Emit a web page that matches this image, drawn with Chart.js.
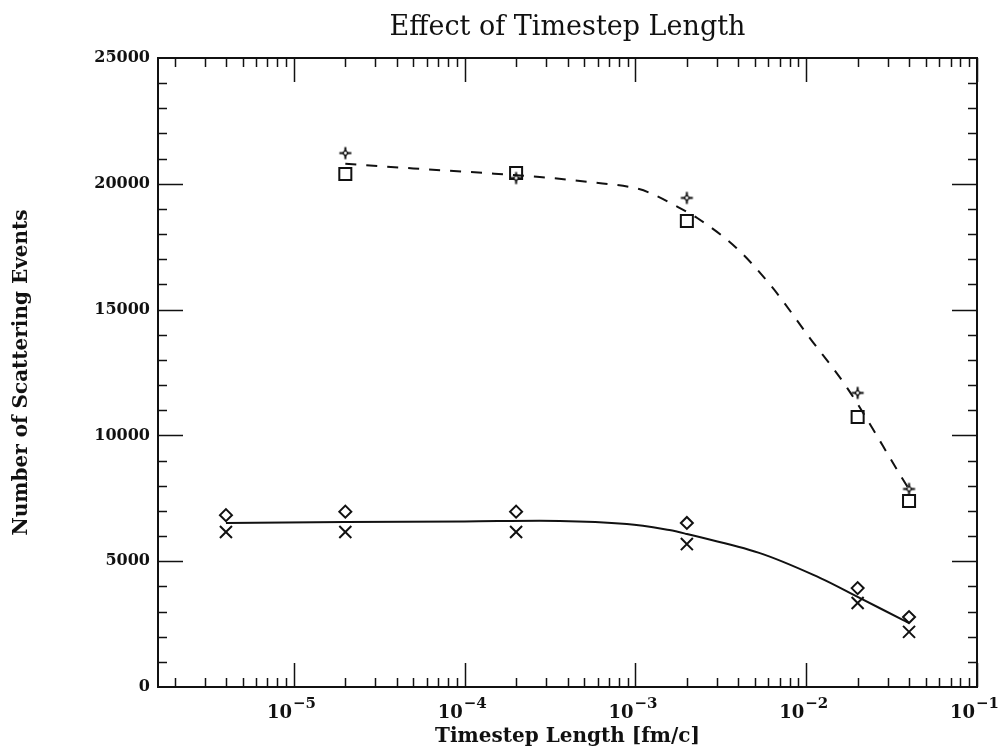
<!DOCTYPE html>
<html>
<head>
<meta charset="utf-8">
<script src="https://cdn.jsdelivr.net/npm/chart.js@4.4.1/dist/chart.umd.min.js"></script>
<style>
  body { margin: 0; background: #fff; }
  canvas { display: block; }
</style>
</head>
<body>
<canvas id="chart" width="1002" height="755"></canvas>
<script>
// timestep lengths where the runs were done
const timesteps = [4e-6, 2e-5, 2e-4, 2e-3, 2e-2, 4e-2];

// measured scattering counts (four runs)
const diamondCounts = [6830, 6970, 6970, 6520, 3930, 2780];
const crossCounts   = [6160, 6160, 6160, 5680, 3340, 2190];
const squareCounts  = [null, 20390, 20430, 18520, 10730, 7390];
const starCounts    = [null, 21220, 20230, 19440, 11690, 7870];

// fitted curves
const upperFitX = [2e-5, 5e-5, 1.3e-4, 2.75e-4, 5.4e-4, 1.05e-3, 1.29e-3, 1.64e-3, 2.3e-3, 3.9e-3, 6.3e-3, 1.05e-2, 1.74e-2, 3.55e-2, 4e-2];
const upperFitY = [20800, 20610, 20430, 20270, 20070, 19790, 19560, 19200, 18640, 17450, 15900, 13870, 11880, 8430, 7850];
const lowerFitX = [4e-6, 2e-5, 1e-4, 3.6e-4, 8.9e-4, 1.58e-3, 2e-3, 5.3e-3, 1.21e-2, 2e-2, 3.7e-2, 4e-2];
const lowerFitY = [6520, 6560, 6580, 6600, 6480, 6240, 6080, 5330, 4330, 3580, 2660, 2540];

// axes
const yTicks = [0, 5000, 10000, 15000, 20000, 25000];
const yMinorStep = 1000;
const xDecades = [1e-6, 1e-5, 1e-4, 1e-3, 1e-2];
const xMajorTicks = [1e-5, 1e-4, 1e-3, 1e-2, 1e-1];
const xTickExponents = ['\u22125', '\u22124', '\u22123', '\u22122', '\u22121'];
const minorMultipliers = [2, 3, 4, 5, 6, 7, 8, 9];

const ink = '#111';
const serif = "'DejaVu Serif', 'Liberation Serif', serif";

function pts(xs, ys) {
    return xs.map((x, i) => ({ x: x, y: ys[i] })).filter(p => p.y !== null);
}

// little four-point star with a hollow middle
function starMarker() {
    const c = document.createElement('canvas');
    c.width = 15; c.height = 15;
    const g = c.getContext('2d');
    g.strokeStyle = ink; g.lineWidth = 2;
    g.beginPath();
    g.moveTo(7.5, 1.5); g.lineTo(7.5, 13.5);
    g.moveTo(1.5, 7.5); g.lineTo(13.5, 7.5);
    g.stroke();
    g.fillStyle = ink;
    g.beginPath();
    g.moveTo(7.5, 3.8); g.lineTo(11.2, 7.5); g.lineTo(7.5, 11.2); g.lineTo(3.8, 7.5);
    g.closePath(); g.fill();
    g.fillStyle = '#fff';
    g.beginPath(); g.arc(7.5, 7.5, 1.4, 0, Math.PI * 2); g.fill();
    return c;
}

// frame with inward ticks on all four sides + 10^n labels
const framePlugin = {
    id: 'frame',
    beforeDatasetsDraw(chart) {
        const { ctx, chartArea: a, scales: { x, y } } = chart;
        ctx.save();
        ctx.strokeStyle = ink;
        ctx.lineWidth = 2;
        ctx.strokeRect(a.left, a.top, a.right - a.left, a.bottom - a.top);

        ctx.lineWidth = 1.5;
        ctx.beginPath();
        const vTick = (v, len) => {
            const px = Math.round(x.getPixelForValue(v)) + 0.5;
            ctx.moveTo(px, a.bottom); ctx.lineTo(px, a.bottom - len);
            ctx.moveTo(px, a.top); ctx.lineTo(px, a.top + len);
        };
        xMajorTicks.forEach(v => vTick(v, 24));
        xDecades.forEach(d => minorMultipliers.forEach(m => {
            const v = d * m;
            if (v > x.min && v < x.max) vTick(v, 9);
        }));
        const hTick = (v, len) => {
            const py = Math.round(y.getPixelForValue(v)) + 0.5;
            ctx.moveTo(a.left, py); ctx.lineTo(a.left + len, py);
            ctx.moveTo(a.right, py); ctx.lineTo(a.right - len, py);
        };
        for (let v = y.min + yMinorStep; v < y.max; v += yMinorStep) {
            hTick(v, yTicks.includes(v) ? 25 : 9);
        }
        ctx.stroke();
        ctx.restore();
    },
    afterDraw(chart) {
        const { ctx, chartArea: a, scales: { x } } = chart;
        ctx.save();
        ctx.fillStyle = ink;
        ctx.textBaseline = 'alphabetic';
        ctx.textAlign = 'left';
        const baseFont = 'bold 18px ' + serif;
        const expFont = 'bold 15px ' + serif;
        xMajorTicks.forEach((v, i) => {
            const px = x.getPixelForValue(v);
            ctx.font = baseFont;
            const wBase = ctx.measureText('10').width;
            ctx.font = expFont;
            const wExp = ctx.measureText(xTickExponents[i]).width;
            const left = px - (wBase + wExp) / 2 - 3;
            ctx.font = baseFont;
            ctx.fillText('10', left, a.bottom + 31);
            ctx.font = expFont;
            ctx.fillText(xTickExponents[i], left + wBase + 1, a.bottom + 21);
        });
        ctx.restore();
    }
};

new Chart(document.getElementById('chart'), {
    type: 'scatter',
    data: {
        datasets: [
            {
                label: 'star',
                data: pts(timesteps, starCounts),
                pointStyle: starMarker(),
                pointRadius: 7,
                showLine: false
            },
            {
                label: 'square',
                data: pts(timesteps, squareCounts),
                pointStyle: 'rect',
                pointRadius: 8.5,
                borderColor: ink,
                borderWidth: 2,
                backgroundColor: 'rgba(0,0,0,0)',
                showLine: false
            },
            {
                label: 'diamond',
                data: pts(timesteps, diamondCounts),
                pointStyle: 'rectRot',
                pointRadius: 6,
                borderColor: ink,
                borderWidth: 2,
                backgroundColor: 'rgba(0,0,0,0)',
                showLine: false
            },
            {
                label: 'cross',
                data: pts(timesteps, crossCounts),
                pointStyle: 'crossRot',
                pointRadius: 8.5,
                borderColor: ink,
                borderWidth: 2,
                showLine: false
            },
            {
                label: 'upper fit',
                type: 'line',
                data: pts(upperFitX, upperFitY),
                borderColor: ink,
                borderWidth: 2,
                borderDash: [11, 10],
                pointRadius: 0,
                cubicInterpolationMode: 'monotone',
                fill: false
            },
            {
                label: 'lower fit',
                type: 'line',
                data: pts(lowerFitX, lowerFitY),
                borderColor: ink,
                borderWidth: 2,
                pointRadius: 0,
                tension: 0.35,
                fill: false
            }
        ]
    },
    options: {
        responsive: false,
        animation: false,
        events: [],
        layout: { padding: { left: 0, right: 25, top: 0, bottom: 0 } },
        plugins: {
            legend: { display: false },
            tooltip: { enabled: false },
            title: {
                display: true,
                text: 'Effect of Timestep Length',
                fullSize: false,
                color: ink,
                font: { family: serif, size: 27, weight: 'normal' },
                padding: { top: 12, bottom: 13.6 }
            }
        },
        scales: {
            x: {
                type: 'logarithmic',
                min: 1.6e-6,
                max: 0.1,
                grid: { display: false },
                border: { display: false },
                ticks: { display: false },
                title: {
                    display: true,
                    text: 'Timestep Length [fm/c]',
                    color: ink,
                    font: { family: serif, size: 20, weight: 'bold' },
                    padding: { top: 0, bottom: 6 }
                },
                afterFit: (s) => { s.height = 68; }
            },
            y: {
                min: 0,
                max: 25000,
                afterBuildTicks: (s) => { s.ticks = yTicks.map(v => ({ value: v })); },
                grid: { display: false },
                border: { display: false },
                ticks: {
                    color: ink,
                    padding: 0,
                    font: { family: serif, size: 16, weight: 'bold' },
                    callback: (v) => String(v)
                },
                title: {
                    display: true,
                    text: 'Number of Scattering Events',
                    color: ink,
                    font: { family: serif, size: 20, weight: 'bold' },
                    padding: { top: 10, bottom: 0 }
                },
                afterFit: (s) => { s.width = 158; }
            }
        }
    },
    plugins: [framePlugin]
});
</script>
</body>
</html>
